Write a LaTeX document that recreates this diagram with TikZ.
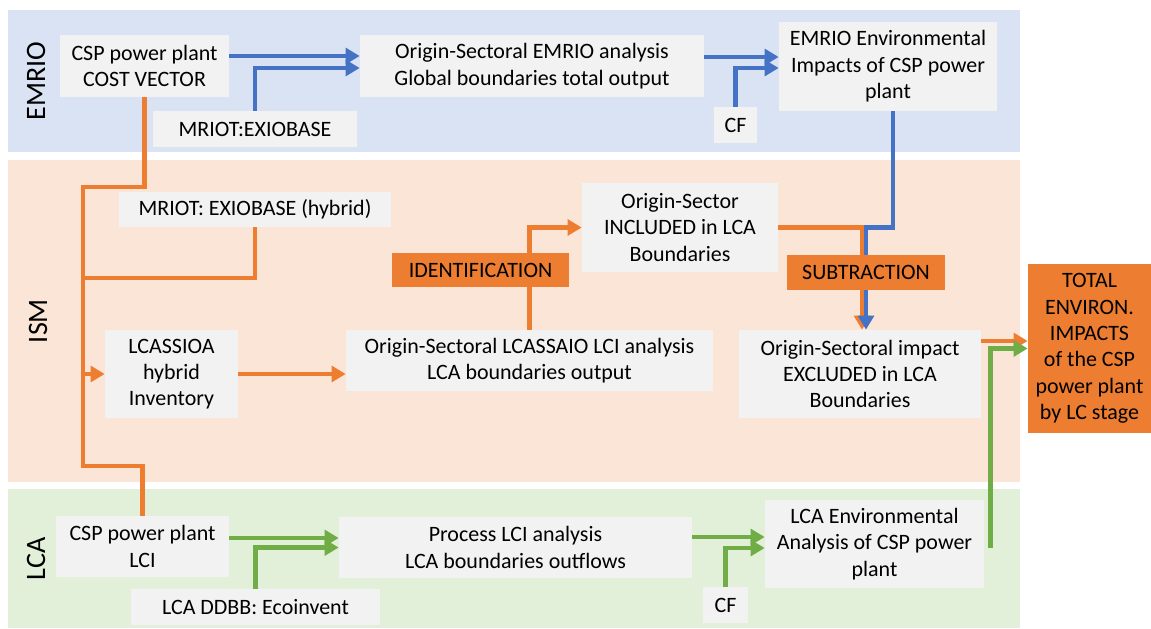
\documentclass[tikz,border=0pt]{standalone}
\usepackage{fontspec}
\setmainfont{Carlito}
\usepackage{xcolor}
\usepackage{tikz}
\usetikzlibrary{arrows.meta,shapes}

\definecolor{emriobg}{HTML}{DAE3F3}
\definecolor{ismbg}{HTML}{FBE5D6}
\definecolor{lcabg}{HTML}{E2F0D9}
\definecolor{boxgrey}{HTML}{F2F2F2}
\definecolor{flowblue}{HTML}{4472C4}
\definecolor{floworange}{HTML}{ED7D31}
\definecolor{flowgreen}{HTML}{70AD47}

\begin{document}
\begin{tikzpicture}[x=0.02cm,y=-0.02cm,
    every node/.style={inner sep=0pt,minimum size=0pt,align=center,font=\fontsize{12.5}{15}\selectfont},
    box/.style={fill=boxgrey},
    hot/.style={fill=floworange},
    band/.style={rotate=90,font=\fontsize{16}{18}\selectfont},
    busline/.style={line width=2.6pt},
    flow/.style={line width=2.6pt,-{Triangle[length=8pt,width=9pt]}}]
    \useasboundingbox (0,0) rectangle (1151,628);

    \fill[emriobg] (8,10) rectangle (1020,152);
    \fill[ismbg] (8,160) rectangle (1020,482);
    \fill[lcabg] (8,489) rectangle (1020,628);

    \node(emriolbl)[band] at (36,81) {EMRIO};
    \node(ismlbl)[band] at (38,321) {ISM};
    \node(lcalbl)[band] at (36,559) {LCA};

    \node(costvec)[box,minimum width=3.38cm,minimum height=1.24cm] at (144.5,66) {CSP power plant\\COST VECTOR};
    \node(mriot)[box,minimum width=4.08cm,minimum height=0.72cm] at (255,129) {MRIOT:EXIOBASE};
    \node(emrioan)[box,minimum width=6.88cm,minimum height=1.24cm] at (532,66) {Origin-Sectoral EMRIO analysis\\Global boundaries total output};
    \node(cfemrio)[box,minimum width=0.86cm,minimum height=0.72cm] at (735.5,125) {CF};
    \node(emrioenv)[box,minimum width=4.36cm,minimum height=1.78cm] at (888,66.5) {EMRIO Environmental\\Impacts of CSP power\\plant};

    \node(hybrid)[box,minimum width=5.44cm,minimum height=0.7cm] at (255,209.5) {MRIOT: EXIOBASE (hybrid)};
    \node(included)[box,minimum width=3.92cm,minimum height=1.78cm] at (680,227.5) {Origin-Sector\\INCLUDED in LCA\\Boundaries};
    \node(lcassioa)[box,minimum width=2.66cm,minimum height=1.76cm] at (171.5,374) {LCASSIOA\\hybrid\\Inventory};
    \node(lcassaio)[box,minimum width=7.34cm,minimum height=1.22cm] at (529.5,360.5) {Origin-Sectoral LCASSAIO LCI analysis\\LCA boundaries output};
    \node(excluded)[box,minimum width=4.84cm,minimum height=1.76cm] at (860,374) {Origin-Sectoral impact\\EXCLUDED in LCA\\Boundaries};
    \node(total)[hot,minimum width=2.46cm,minimum height=3.38cm] at (1089.5,348.5) {TOTAL\\ENVIRON.\\IMPACTS\\of the CSP\\power plant\\by LC stage};

    \node(lci)[box,minimum width=3.46cm,minimum height=1.22cm] at (142.5,546.5) {CSP power plant\\LCI};
    \node(ddbb)[box,minimum width=4.98cm,minimum height=0.72cm] at (255.5,607) {LCA DDBB: Ecoinvent};
    \node(process)[box,minimum width=7.06cm,minimum height=1.22cm] at (515.5,547.5) {Process LCI analysis\\LCA boundaries outflows};
    \node(cflca)[box,minimum width=0.9cm,minimum height=0.72cm] at (725.5,605) {CF};
    \node(lcaenv)[box,minimum width=4.38cm,minimum height=1.76cm] at (874.5,544) {LCA Environmental\\Analysis of CSP power\\plant};

    \coordinate(bustop) at (83,187);
    \coordinate(busmid) at (83,278);
    \coordinate(busbot) at (83,466);

    \path[draw=floworange,busline](costvec.south) |- (bustop) -- (busbot) -| (lci.north);
    \path[draw=floworange,busline](hybrid.south) |- (busmid);
    \path[draw=floworange,flow](bustop |- lcassioa.west) -- (lcassioa.west);
    \path[draw=floworange,flow](lcassioa.east) -- (lcassioa.east -| lcassaio.west);
    \path[draw=floworange,flow](lcassaio.north) |- (included.west);
    \path[draw=floworange,flow](included.east) -| ([xshift=.04cm]excluded.north);
    \path[draw=floworange,flow]([yshift=.66cm]excluded.east) -- ([yshift=.66cm]excluded.east -| total.west);

    \path[draw=flowblue,flow]([yshift=.2cm]costvec.east) -- ([yshift=.2cm]costvec.east -| emrioan.west);
    \path[draw=flowblue,flow](mriot.north) |- ([yshift=-.04cm]emrioan.west);
    \path[draw=flowblue,flow]([yshift=.18cm]emrioan.east) -- ([yshift=.18cm]emrioan.east -| emrioenv.west);
    \path[draw=flowblue,flow](cfemrio.north) |- ([yshift=-.03cm]emrioenv.west);
    \path[draw=flowblue,flow]([xshift=.1cm]emrioenv.south) |- ([xshift=.12cm]excluded.north |- included.east) -- ([xshift=.12cm]excluded.north);

    \path[draw=flowgreen,flow]([yshift=.17cm]lci.east) -- ([yshift=.17cm]lci.east -| process.west);
    \path[draw=flowgreen,flow](ddbb.north) |- (process.west);
    \path[draw=flowgreen,flow]([yshift=.21cm]process.east) -- ([yshift=.21cm]process.east -| lcaenv.west);
    \path[draw=flowgreen,flow](cflca.north) |- ([yshift=-.08cm]lcaenv.west);
    \path[draw=flowgreen,flow]([xshift=.12cm,yshift=-.08cm]lcaenv.east) |- (total.west);

    \node(ident)[hot,minimum width=3.54cm,minimum height=0.68cm] at (480.5,270) {IDENTIFICATION};
    \node(subtr)[hot,minimum width=3.16cm,minimum height=0.7cm] at (866,272.5) {SUBTRACTION};
  \end{tikzpicture}
\end{document}
